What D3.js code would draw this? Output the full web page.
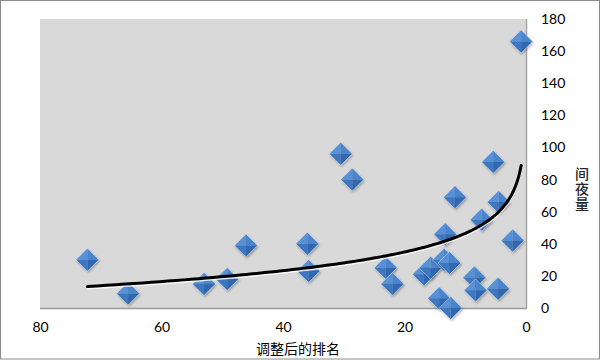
<!DOCTYPE html>
<html><head><meta charset="utf-8">
<script src="https://cdn.jsdelivr.net/npm/d3@7"></script>
<style>body{margin:0;background:#fff;} svg{display:block;}</style>
</head><body>
<svg id="c" width="600" height="360"></svg>
<script>
// Data: adjusted rank (x) vs room-nights (y)
const rankValues = [0.8, 72.2, 65.5, 53.0, 49.2, 46.1, 36.0, 35.8, 30.5, 28.6, 23.1, 22.0, 16.8, 15.7, 14.3, 13.5, 13.3, 12.6, 12.4, 11.7, 8.5, 8.3, 7.3, 5.4, 4.6, 4.5, 2.2];
const nightValues = [166, 30, 9, 15, 18, 39, 40, 23, 96, 80, 25, 15, 21, 25, 6, 30, 46, 28, 0, 69, 19, 11, 55, 91, 12, 66, 42];
const xTicks = [80, 60, 40, 20, 0];
const yTicks = [0, 20, 40, 60, 80, 100, 120, 140, 160, 180];
const xTitle = "调整后的排名";
const yTitle = "间夜量";

const svg = d3.select("#c");
const L = 40, R = 526, T = 19, B = 308;
const x = d3.scaleLinear().domain([80, 0]).range([L, R]);
const y = d3.scaleLinear().domain([0, 180]).range([B, T]);

// outer border
svg.append("rect").attr("x", 0.5).attr("y", 0.5).attr("width", 599).attr("height", 358.5)
  .attr("fill", "#fff").attr("stroke", "#8c8c8c").attr("stroke-width", 1);

// plot area
svg.append("rect").attr("x", L).attr("y", T).attr("width", R - L).attr("height", B - T)
  .attr("fill", "#d9d9d9");

// axes lines
svg.append("line").attr("x1", L).attr("x2", R + 1).attr("y1", B + 0.5).attr("y2", B + 0.5)
  .attr("stroke", "#9a9a9a").attr("stroke-width", 1.5);
svg.append("line").attr("x1", R + 0.5).attr("x2", R + 0.5).attr("y1", T).attr("y2", B)
  .attr("stroke", "#a6a6a6").attr("stroke-width", 1.5);

// axes via d3
const xAxis = d3.axisBottom(x).tickValues(xTicks).tickSize(0).tickPadding(0).tickFormat(d3.format("d"));
const gx = svg.append("g").attr("transform", `translate(0,${B + 14})`).call(xAxis);
gx.select(".domain").remove();
gx.selectAll("text").attr("font-family", "Lato, 'Open Sans', sans-serif").attr("font-size", 14)
  .attr("fill", "#000").attr("dy", "0.71em");

const yAxis = d3.axisRight(y).tickValues(yTicks).tickSize(0).tickPadding(0).tickFormat(d3.format("d"));
const gy = svg.append("g").attr("transform", `translate(${R + 15},0)`).call(yAxis);
gy.select(".domain").remove();
gy.selectAll("text").attr("font-family", "Lato, 'Open Sans', sans-serif").attr("font-size", 14)
  .attr("fill", "#000");

// titles
svg.append("text").attr("x", 298).attr("y", 354).attr("text-anchor", "middle")
  .attr("font-family", "'Noto Sans CJK SC', sans-serif").attr("font-size", 14).attr("fill", "#000")
  .text(xTitle);
svg.append("text").attr("x", 582).attr("y", 167)
  .style("writing-mode", "vertical-rl").style("text-orientation", "upright")
  .attr("letter-spacing", 1)
  .attr("font-family", "'Noto Sans CJK SC', sans-serif").attr("font-size", 14)
  .attr("fill", "#262626").attr("font-weight", 500)
  .text(yTitle);

// markers (beveled diamonds)
const pts = rankValues.map((r, i) => ({ x: r, y: nightValues[i] }));
const s = 11.5;
const defs = svg.append("defs");
const f = defs.append("filter").attr("id", "sh").attr("x", "-50%").attr("y", "-50%").attr("width", "200%").attr("height", "200%");
f.append("feDropShadow").attr("dx", 1).attr("dy", 1.5).attr("stdDeviation", 1).attr("flood-color", "#000").attr("flood-opacity", 0.3);

const facets = [
  { p: (cx, cy) => [[cx - s, cy], [cx, cy - s], [cx, cy]], c: "#5891d6" },
  { p: (cx, cy) => [[cx, cy - s], [cx + s, cy], [cx, cy]], c: "#4884cd" },
  { p: (cx, cy) => [[cx - s, cy], [cx, cy + s], [cx, cy]], c: "#3e77c0" },
  { p: (cx, cy) => [[cx + s, cy], [cx, cy + s], [cx, cy]], c: "#3168b0" }
];

// trendline: logarithmic least-squares fit computed from data
const lx = pts.map(d => Math.log(d.x));
const mx = d3.mean(lx), my = d3.mean(pts, d => d.y);
const bCoef = d3.sum(pts, (d, i) => (lx[i] - mx) * (d.y - my)) / d3.sum(lx, v => (v - mx) * (v - mx));
const aCoef = my - bCoef * mx;
const [xmin, xmax] = d3.extent(rankValues);
const trend = d3.range(0, 201).map(i => {
  const xv = Math.exp(Math.log(xmin) + (Math.log(xmax) - Math.log(xmin)) * i / 200);
  return [xv, aCoef + bCoef * Math.log(xv)];
});
const line = d3.line().x(d => x(d[0])).y(d => y(d[1])).curve(d3.curveLinear);

const mg = svg.append("g");
pts.forEach(d => {
  const cx = x(d.x), cy = y(d.y);
  const g = mg.append("g").attr("filter", "url(#sh)");
  facets.forEach(fc => g.append("polygon").attr("points", fc.p(cx, cy).join(" ")).attr("fill", fc.c));
  g.append("polygon").attr("points", [[cx - s, cy], [cx, cy - s], [cx + s, cy], [cx, cy + s]].join(" "))
    .attr("fill", "none").attr("stroke", "#dfe7f2").attr("stroke-width", 0.6).attr("stroke-opacity", 0.7);
});

svg.append("path").datum(trend).attr("d", line).attr("fill", "none")
  .attr("stroke", "#fff").attr("stroke-width", 3).attr("transform", "translate(0,1.5)").attr("opacity", 0.8);
svg.append("path").datum(trend).attr("d", line).attr("fill", "none")
  .attr("stroke", "#000").attr("stroke-width", 3).attr("stroke-linecap", "round");
</script>
</body></html>
